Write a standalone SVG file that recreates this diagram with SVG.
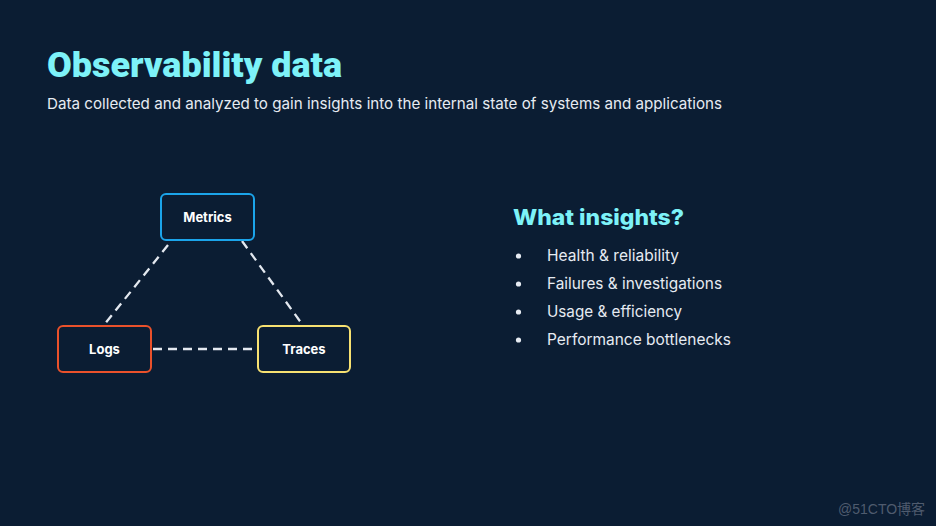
<svg xmlns="http://www.w3.org/2000/svg" width="936" height="526" viewBox="0 0 936 526">
<defs>
<style>
.title{font-family:"Liberation Sans Narrow","Roboto","Liberation Sans",sans-serif;font-weight:900;fill:#7df2f8}
.body{font-family:"Inter","Noto Sans","Liberation Sans",sans-serif;fill:#e6ebf2}
.box{fill:#0b1d33;stroke-width:2}
.lbl{font-family:"Inter","Liberation Sans",sans-serif;font-weight:bold;font-size:13px;fill:#ffffff;text-anchor:middle}
.conn{stroke:#e3e8ef;stroke-width:2.3;stroke-dasharray:9 6;fill:none}
</style>
</defs>
<rect width="936" height="526" fill="#0b1d33"/>
<text class="title" x="47" y="77" font-size="35" textLength="295" lengthAdjust="spacingAndGlyphs">Observability data</text>
<text class="body" x="47" y="109" font-size="15" textLength="675" lengthAdjust="spacingAndGlyphs">Data collected and analyzed to gain insights into the internal state of systems and applications</text>
<g id="connectors">
<line class="conn" x1="168" y1="245" x2="104" y2="325"/>
<line class="conn" x1="242" y1="241" x2="302" y2="324"/>
<line class="conn" x1="153" y1="349" x2="256" y2="349"/>
</g>
<g id="metrics">
<rect class="box" x="161" y="194" width="93" height="46" rx="5" stroke="#1ba4ea"/>
<text class="lbl" x="207.5" y="221.5">Metrics</text>
</g>
<g id="logs">
<rect class="box" x="58" y="326" width="93" height="46" rx="5" stroke="#ea512b"/>
<text class="lbl" x="104.5" y="354">Logs</text>
</g>
<g id="traces">
<rect class="box" x="258" y="326" width="92" height="46" rx="5" stroke="#f7e171"/>
<text class="lbl" x="304" y="354">Traces</text>
</g>
<g id="insights">
<text x="513" y="225" font-family="Inter,'Liberation Sans',sans-serif" font-weight="800" font-size="22" fill="#7df2f8" textLength="171" lengthAdjust="spacingAndGlyphs">What insights?</text>
<g fill="#e6ebf2">
<circle cx="518.5" cy="256" r="2.6"/>
<circle cx="518.5" cy="284" r="2.6"/>
<circle cx="518.5" cy="312" r="2.6"/>
<circle cx="518.5" cy="340" r="2.6"/>
</g>
<text class="body" x="547" y="261" font-size="15.5" textLength="132" lengthAdjust="spacingAndGlyphs">Health &amp; reliability</text>
<text class="body" x="547" y="289" font-size="15.5" textLength="175" lengthAdjust="spacingAndGlyphs">Failures &amp; investigations</text>
<text class="body" x="547" y="317" font-size="15.5" textLength="135" lengthAdjust="spacingAndGlyphs">Usage &amp; efficiency</text>
<text class="body" x="547" y="345" font-size="15.5" textLength="184" lengthAdjust="spacingAndGlyphs">Performance bottlenecks</text>
</g>
<text x="838" y="514" font-family="'Liberation Sans','Noto Sans CJK SC',sans-serif" font-size="14" fill="#4f5b6e">@51CTO博客</text>
</svg>
